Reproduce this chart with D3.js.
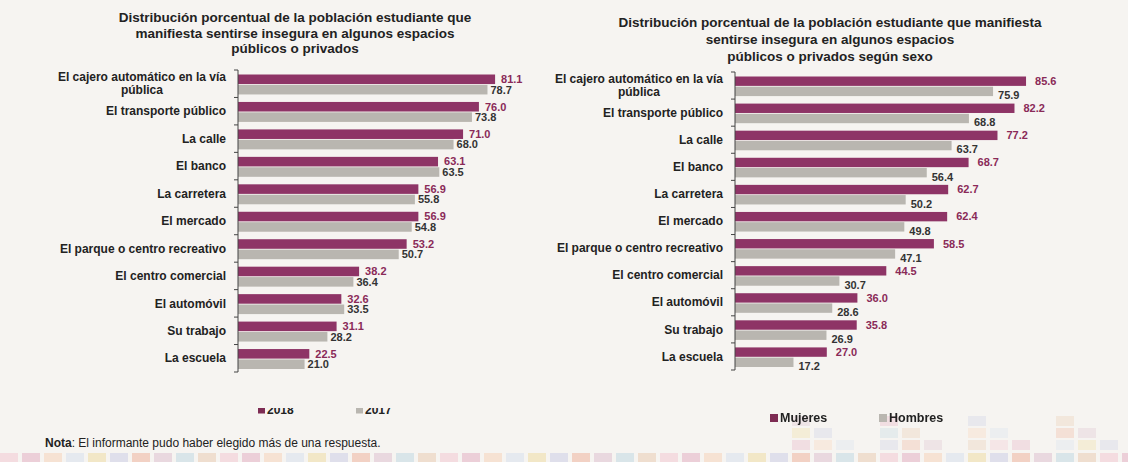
<!DOCTYPE html>
<html>
<head>
<meta charset="utf-8">
<script src="https://cdn.jsdelivr.net/npm/d3@7"></script>
<style>
  html, body { margin: 0; padding: 0; background: #f6f4f1; }
  svg { display: block; font-family: "Liberation Sans", Arial, sans-serif; }
</style>
</head>
<body>
<svg id="chart" width="1128" height="462"></svg>
<script>
// Data
const categories = [
  'El cajero automático en la vía|pública',
  'El transporte público',
  'La calle',
  'El banco',
  'La carretera',
  'El mercado',
  'El parque o centro recreativo',
  'El centro comercial',
  'El automóvil',
  'Su trabajo',
  'La escuela'
];
const pct2018 = [81.1, 76.0, 71.0, 63.1, 56.9, 56.9, 53.2, 38.2, 32.6, 31.1, 22.5];
const pct2017 = [78.7, 73.8, 68.0, 63.5, 55.8, 54.8, 50.7, 36.4, 33.5, 28.2, 21.0];
const pctMujeres = [85.6, 82.2, 77.2, 68.7, 62.7, 62.4, 58.5, 44.5, 36.0, 35.8, 27.0];
const pctHombres = [75.9, 68.8, 63.7, 56.4, 50.2, 49.8, 47.1, 30.7, 28.6, 26.9, 17.2];

const titleLeft = [
  'Distribución porcentual de la población estudiante que',
  'manifiesta sentirse insegura en algunos espacios',
  'públicos o privados'
];
const titleRight = [
  'Distribución porcentual de la población estudiante que manifiesta',
  'sentirse insegura en algunos espacios',
  'públicos o privados según sexo'
];
const seriesLeft = ['2018', '2017'];
const seriesRight = ['Mujeres', 'Hombres'];

const PINK = '#8e3466';
const GRAY = '#b9b6b0';
const PINK_TEXT = '#8a2a58';
const DARK = '#222';

const svg = d3.select('#chart');

// decorative strip of pale squares at the bottom of the page
const decoColors = ['#f3d4da', '#e9c3cf', '#f6dcc9', '#dfe6ee', '#f0e3b8', '#d7d9e8', '#f1c6b5', '#e4cfd9', '#cfe0e6', '#ecd7c3'];
const deco = svg.append('g').attr('class', 'deco').attr('opacity', 0.75);
d3.range(0, 1128, 22).forEach((x, i) => {
  deco.append('rect')
    .attr('x', x).attr('y', 453)
    .attr('width', 18).attr('height', 9)
    .attr('fill', decoColors[i % decoColors.length]);
});
d3.range(770, 1128, 22).forEach((x, i) => {
  const n = (i * 7) % 4;
  d3.range(n).forEach(j => {
    deco.append('rect')
      .attr('x', x).attr('y', 440 - j * 12)
      .attr('width', 18).attr('height', 10)
      .attr('fill', decoColors[(i + j * 3) % decoColors.length])
      .attr('opacity', 0.6);
  });
});

function drawPanel(opts) {
  const g = svg.append('g').attr('class', opts.cls);

  const y = d3.scaleBand()
    .domain(categories)
    .range(opts.yRange);
  const ySub = d3.scaleBand()
    .domain([0, 1])
    .range([4.5, y.bandwidth() - 3])
    .paddingInner(0.08);
  const x = d3.scaleLinear()
    .domain([0, 100])
    .range([opts.x0, opts.x0 + 100 * opts.k]);

  // title
  g.append('text')
    .attr('text-anchor', 'middle')
    .attr('font-size', '13.5px')
    .attr('font-weight', 'bold')
    .attr('fill', DARK)
    .selectAll('tspan')
    .data(opts.title)
    .join('tspan')
      .attr('x', opts.titleX)
      .attr('y', (d, i) => opts.titleY + i * opts.titleStep)
      .text(d => d);

  const rows = g.selectAll('.row')
    .data(categories.map((c, i) => ({ cat: c, a: opts.a[i], b: opts.b[i] })))
    .join('g')
      .attr('class', 'row')
      .attr('transform', d => `translate(0,${y(d.cat)})`);

  rows.append('rect')
    .attr('x', x(0))
    .attr('y', ySub(0))
    .attr('height', ySub.bandwidth())
    .attr('width', d => x(d.a) - x(0))
    .attr('fill', PINK);
  rows.append('rect')
    .attr('x', x(0))
    .attr('y', ySub(1))
    .attr('height', ySub.bandwidth())
    .attr('width', d => x(d.b) - x(0))
    .attr('fill', GRAY);

  rows.append('text')
    .attr('x', d => x(d.a) + opts.padA)
    .attr('y', ySub(0) + ySub.bandwidth() / 2)
    .attr('dy', '0.35em')
    .attr('font-size', '11px')
    .attr('font-weight', 'bold')
    .attr('fill', PINK_TEXT)
    .text(d => d3.format('.1f')(d.a));
  rows.append('text')
    .attr('x', d => x(d.b) + opts.padB)
    .attr('y', ySub(1) + ySub.bandwidth() / 2 + opts.dyB)
    .attr('dy', '0.35em')
    .attr('font-size', '11px')
    .attr('font-weight', 'bold')
    .attr('fill', '#333')
    .text(d => d3.format('.1f')(d.b));

  // category labels
  rows.each(function (d) {
    const parts = d.cat.split('|');
    const row = d3.select(this);
    const end = x(0) - 12;
    if (parts.length === 1) {
      row.append('text')
        .attr('x', end)
        .attr('y', y.bandwidth() / 2)
        .attr('dy', '0.35em')
        .attr('text-anchor', 'end')
        .attr('font-size', '12px')
        .attr('font-weight', 'bold')
        .attr('fill', DARK)
        .text(parts[0]);
    } else {
      const first = row.append('text')
        .attr('x', end)
        .attr('y', y.bandwidth() / 2 - 7)
        .attr('dy', '0.35em')
        .attr('text-anchor', 'end')
        .attr('font-size', '12px')
        .attr('font-weight', 'bold')
        .attr('fill', DARK)
        .text(parts[0]);
      const w = first.node().getComputedTextLength();
      row.append('text')
        .attr('x', end - w / 2)
        .attr('y', y.bandwidth() / 2 + 6.5)
        .attr('dy', '0.35em')
        .attr('text-anchor', 'middle')
        .attr('font-size', '12px')
        .attr('font-weight', 'bold')
        .attr('fill', DARK)
        .text(parts[1]);
    }
  });

  // axis line with ticks at the band edges
  const edges = categories.map(c => y(c)).concat([y.range()[1]]);
  g.append('line')
    .attr('x1', x(0)).attr('x2', x(0))
    .attr('y1', y.range()[0]).attr('y2', y.range()[1])
    .attr('stroke', '#444').attr('stroke-width', 1);
  g.selectAll('.tick')
    .data(edges)
    .join('line')
      .attr('class', 'tick')
      .attr('x1', x(0) - 4).attr('x2', x(0))
      .attr('y1', d => d).attr('y2', d => d)
      .attr('stroke', '#444').attr('stroke-width', 1);

  // legend
  const lg = g.append('g')
    .attr('transform', `translate(${opts.legendX},${opts.legendY})`)
    .attr('clip-path', opts.clip ? `url(#${opts.clip})` : null);
  opts.series.forEach((s, i) => {
    const item = lg.append('g').attr('transform', `translate(${i * opts.legendStep},0)`);
    item.append('rect')
      .attr('x', 0).attr('y', -opts.legendSq / 2)
      .attr('width', opts.legendSq).attr('height', opts.legendSq)
      .attr('fill', i === 0 ? '#7d2b53' : GRAY);
    item.append('text')
      .attr('x', opts.legendSq + 2)
      .attr('dy', '0.35em')
      .attr('font-size', opts.legendFont)
      .attr('font-weight', 'bold')
      .attr('fill', DARK)
      .text(s);
  });
}

// clip for the half-cut 2018/2017 legend
svg.append('defs').append('clipPath')
  .attr('id', 'legclip')
  .append('rect')
    .attr('x', -10).attr('y', -2)
    .attr('width', 200).attr('height', 12);

drawPanel({
  cls: 'left', a: pct2018, b: pct2017, x0: 238, k: 3.17, yRange: [70, 372],
  title: titleLeft, titleX: 295, titleY: 22, titleStep: 15.5,
  padA: 6, padB: 3, dyB: 0,
  series: seriesLeft, legendX: 258, legendY: 410, legendStep: 98,
  legendSq: 7, legendFont: '12px', clip: 'legclip'
});
drawPanel({
  cls: 'right', a: pctMujeres, b: pctHombres, x0: 735, k: 3.4, yRange: [72, 370],
  title: titleRight, titleX: 830, titleY: 27, titleStep: 17,
  padA: 9, padB: 5, dyB: 4,
  series: seriesRight, legendX: 770, legendY: 418, legendStep: 109,
  legendSq: 8, legendFont: '12.5px', clip: null
});

// note
svg.append('text')
  .attr('x', 45).attr('y', 447)
  .attr('font-size', '12px')
  .attr('fill', DARK)
  .call(t => t.append('tspan').attr('font-weight', 'bold').text('Nota'))
  .call(t => t.append('tspan').text(': El informante pudo haber elegido más de una respuesta.'));
</script>
</body>
</html>
